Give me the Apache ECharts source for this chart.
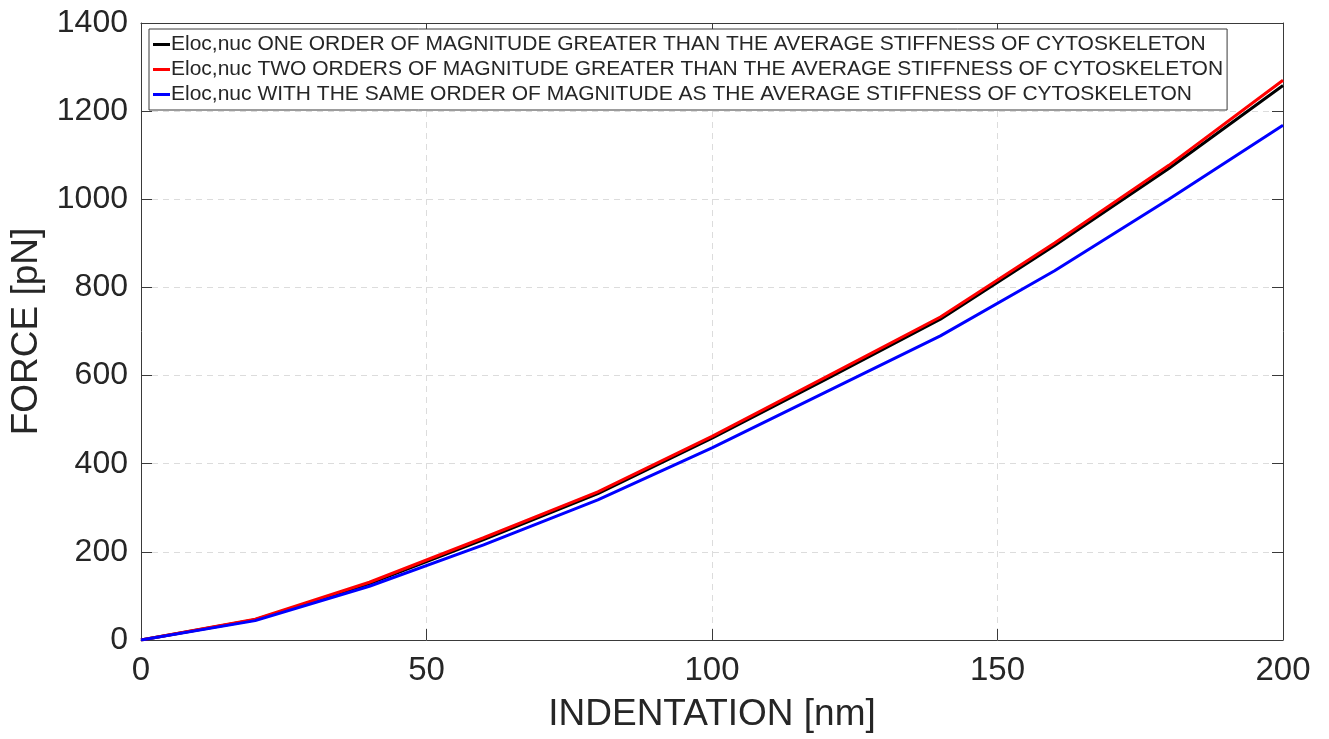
<!DOCTYPE html>
<html>
<head>
<meta charset="utf-8">
<script src="https://cdn.jsdelivr.net/npm/echarts@6/dist/echarts.min.js"></script>
<style>
html,body{margin:0;padding:0;background:#fff;}
#chart{width:1329px;height:739px;}
</style>
</head>
<body>
<div id="chart"></div>
<script>
const indentation = [0, 20, 40, 60, 80, 100, 120, 140, 160, 180, 200];
const forceOneOrder = [0, 46, 128, 228, 332, 458, 592, 728, 895, 1070, 1258];
const forceTwoOrders = [0, 47, 131, 232, 336, 462, 597, 733, 901, 1077, 1270];
const forceSameOrder = [0, 44, 122, 216, 318, 436, 563, 690, 838, 1000, 1168];
const seriesNames = [
  'Eloc,nuc ONE ORDER OF MAGNITUDE GREATER THAN THE AVERAGE STIFFNESS OF CYTOSKELETON',
  'Eloc,nuc TWO ORDERS OF MAGNITUDE GREATER THAN THE AVERAGE STIFFNESS OF CYTOSKELETON',
  'Eloc,nuc WITH THE SAME ORDER OF MAGNITUDE AS THE AVERAGE STIFFNESS OF CYTOSKELETON'
];
const seriesColors = ['#000000', '#ff0000', '#0000ff'];
const xAxisTitle = 'INDENTATION [nm]';
const yAxisTitle = 'FORCE [pN]';

const toPairs = (ys) => indentation.map((x, i) => [x, ys[i]]);
const allSeries = [forceOneOrder, forceTwoOrders, forceSameOrder];

const font = 'Liberation Sans, Arial, Helvetica, sans-serif';
const txt = '#262626';
const axisLineColor = '#3a3a3a';

const chart = echarts.init(document.getElementById('chart'), null, {renderer: 'canvas'});
chart.setOption({
  backgroundColor: '#ffffff',
  animation: false,
  grid: {left: 141, right: 46, top: 23, bottom: 99, containLabel: false},
  legend: {
    orient: 'vertical',
    left: 149, top: 29,
    backgroundColor: '#ffffff',
    borderColor: '#3a3a3a', borderWidth: 1,
    padding: [5, 4, 5, 4],
    itemGap: 4,
    itemWidth: 17, itemHeight: 3,
    icon: 'rect',
    textStyle: {fontFamily: font, fontSize: 21, color: txt, padding: [0, 0, 0, -4]},
    data: seriesNames
  },
  xAxis: [{
    type: 'value', min: 0, max: 200, interval: 50,
    name: xAxisTitle, nameLocation: 'middle', nameGap: 56,
    nameTextStyle: {fontFamily: font, fontSize: 37, color: txt},
    axisLine: {show: true, onZero: false, lineStyle: {color: axisLineColor, width: 1}},
    axisTick: {show: true, inside: true, length: 11, lineStyle: {color: axisLineColor}},
    axisLabel: {fontFamily: font, fontSize: 33, color: txt, margin: 14},
    splitLine: {show: true, lineStyle: {color: '#dcdcdc', type: [6, 5], width: 1}}
  }, {
    type: 'value', min: 0, max: 200, interval: 50, position: 'top',
    axisLine: {show: true, onZero: false, lineStyle: {color: axisLineColor, width: 1}},
    axisTick: {show: true, inside: true, length: 11, lineStyle: {color: axisLineColor}},
    axisLabel: {show: false}, splitLine: {show: false}
  }],
  yAxis: [{
    type: 'value', min: 0, max: 1400, interval: 200,
    name: yAxisTitle, nameLocation: 'middle', nameGap: 96, nameRotate: 90,
    nameTextStyle: {fontFamily: font, fontSize: 37, color: txt},
    axisLine: {show: true, onZero: false, lineStyle: {color: axisLineColor, width: 1}},
    axisTick: {show: true, inside: true, length: 11, lineStyle: {color: axisLineColor}},
    axisLabel: {fontFamily: font, fontSize: 32, color: txt, margin: 13, formatter: (v) => String(v)},
    splitLine: {show: true, lineStyle: {color: '#dcdcdc', type: [6, 5], width: 1}}
  }, {
    type: 'value', min: 0, max: 1400, interval: 200, position: 'right',
    axisLine: {show: true, onZero: false, lineStyle: {color: axisLineColor, width: 1}},
    axisTick: {show: true, inside: true, length: 11, lineStyle: {color: axisLineColor}},
    axisLabel: {show: false}, splitLine: {show: false}
  }],
  series: allSeries.map((ys, i) => ({
    name: seriesNames[i],
    type: 'line',
    xAxisIndex: 0, yAxisIndex: 0,
    data: toPairs(ys),
    showSymbol: false,
    symbol: 'none',
    color: seriesColors[i],
    lineStyle: {color: seriesColors[i], width: 3},
    z: 2 + i
  }))
});
</script>
</body>
</html>
